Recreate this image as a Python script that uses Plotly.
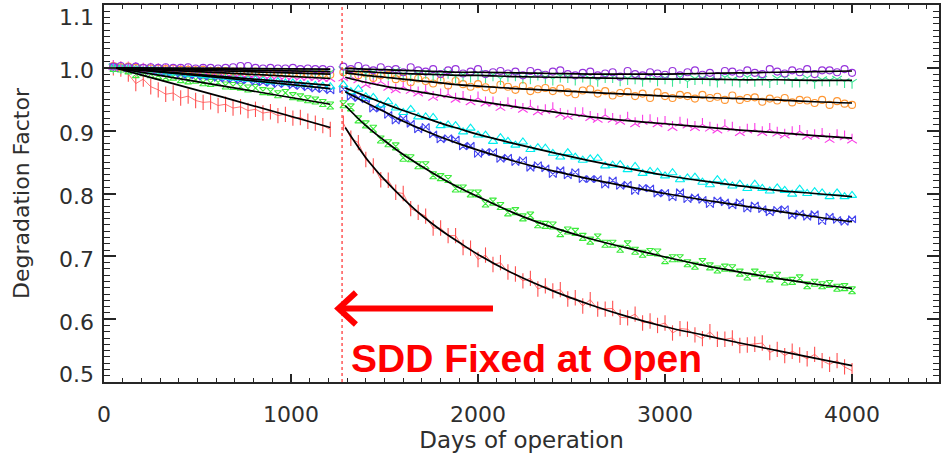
import plotly.graph_objects as go

# ---------------------------------------------------------------- data
# observation days, before and after the SDD was fixed at open
days_early = [50, 90, 130, 170, 210, 250, 290, 330, 370, 410, 450, 490, 530, 570, 610,
              650, 690, 730, 770, 810, 850, 890, 930, 970, 1010, 1050, 1090, 1130, 1170, 1210]
days_late = [1280, 1320, 1360, 1400, 1440, 1480, 1520, 1560, 1600, 1640, 1680, 1720, 1760,
             1800, 1840, 1880, 1920, 1960, 2000, 2040, 2080, 2120, 2160, 2200, 2240, 2280,
             2320, 2360, 2400, 2440, 2480, 2520, 2560, 2600, 2640, 2680, 2720, 2760, 2800,
             2840, 2880, 2920, 2960, 3000, 3040, 3080, 3120, 3160, 3200, 3240, 3280, 3320,
             3360, 3400, 3440, 3480, 3520, 3560, 3600, 3640, 3680, 3720, 3760, 3800, 3840,
             3880, 3920, 3960, 4000]

red_early = [1.000, 0.998, 0.990, 0.975, 0.982, 0.970, 0.965, 0.958, 0.960, 0.952,
             0.955, 0.948, 0.945, 0.946, 0.940, 0.942, 0.936, 0.938, 0.932, 0.934,
             0.928, 0.930, 0.924, 0.926, 0.920, 0.921, 0.915, 0.912, 0.908, 0.902]
green_early = [1.000, 0.999, 0.996, 0.990, 0.993, 0.990, 0.988, 0.985, 0.986, 0.982,
               0.980, 0.981, 0.977, 0.976, 0.977, 0.972, 0.971, 0.970, 0.967, 0.968,
               0.963, 0.962, 0.958, 0.960, 0.955, 0.953, 0.950, 0.948, 0.944, 0.940]
blue_early = [1.002, 1.000, 0.999, 0.997, 0.996, 0.995, 0.994, 0.992, 0.993, 0.990,
              0.989, 0.988, 0.986, 0.987, 0.984, 0.983, 0.982, 0.980, 0.981, 0.978,
              0.977, 0.976, 0.974, 0.975, 0.972, 0.971, 0.969, 0.967, 0.966, 0.964]
cyan_early = [1.001, 1.000, 0.999, 0.998, 0.996, 0.996, 0.995, 0.994, 0.992, 0.993,
              0.990, 0.990, 0.988, 0.987, 0.987, 0.985, 0.984, 0.983, 0.982, 0.981,
              0.980, 0.978, 0.978, 0.976, 0.976, 0.974, 0.973, 0.972, 0.971, 0.970]
magenta_early = [1.002, 1.000, 1.000, 0.999, 0.998, 0.998, 0.997, 0.996, 0.996, 0.995,
                 0.995, 0.993, 0.994, 0.992, 0.992, 0.991, 0.990, 0.990, 0.989, 0.989,
                 0.988, 0.987, 0.987, 0.986, 0.986, 0.985, 0.985, 0.984, 0.983, 0.983]
orange_early = [1.003, 1.001, 1.002, 1.000, 1.000, 0.999, 0.999, 0.998, 0.999, 0.997,
                0.997, 0.996, 0.997, 0.995, 0.995, 0.995, 0.994, 0.994, 0.993, 0.994,
                0.992, 0.992, 0.992, 0.991, 0.991, 0.991, 0.990, 0.990, 0.990, 0.989]
spring_early = [1.001, 1.000, 1.000, 1.000, 0.999, 0.999, 0.999, 0.998, 0.998, 0.998,
                0.997, 0.998, 0.997, 0.997, 0.996, 0.997, 0.996, 0.996, 0.995, 0.996,
                0.995, 0.995, 0.995, 0.994, 0.995, 0.994, 0.994, 0.994, 0.993, 0.993]
purple_early = [1.002, 1.003, 1.001, 1.002, 1.000, 1.001, 1.000, 1.001, 1.000, 1.000,
                1.001, 0.999, 1.000, 1.000, 0.999, 1.000, 1.001, 1.003, 1.003, 1.000,
                0.999, 1.000, 0.999, 0.999, 1.000, 0.998, 0.999, 0.998, 0.998, 0.997]

red_late = [0.912, 0.888, 0.881, 0.854, 0.844, 0.822, 0.821, 0.802, 0.800, 0.776,
            0.770, 0.764, 0.745, 0.745, 0.733, 0.733, 0.714, 0.713, 0.695, 0.702,
            0.687, 0.690, 0.675, 0.672, 0.661, 0.665, 0.648, 0.653, 0.645, 0.647,
            0.632, 0.634, 0.621, 0.631, 0.616, 0.616, 0.617, 0.603, 0.602, 0.608,
            0.594, 0.597, 0.590, 0.594, 0.578, 0.585, 0.584, 0.575, 0.569, 0.580,
            0.568, 0.568, 0.570, 0.558, 0.559, 0.560, 0.562, 0.547, 0.552, 0.542,
            0.549, 0.543, 0.537, 0.544, 0.534, 0.528, 0.534, 0.524, 0.518]
green_late = [0.942, 0.937, 0.918, 0.910, 0.903, 0.886, 0.880, 0.875, 0.857, 0.856,
              0.845, 0.845, 0.829, 0.826, 0.823, 0.808, 0.808, 0.800, 0.800, 0.784,
              0.787, 0.780, 0.770, 0.772, 0.762, 0.765, 0.751, 0.750, 0.749, 0.737,
              0.741, 0.739, 0.731, 0.725, 0.730, 0.720, 0.720, 0.712, 0.719, 0.709,
              0.704, 0.707, 0.706, 0.694, 0.697, 0.697, 0.689, 0.685, 0.691, 0.684,
              0.679, 0.682, 0.681, 0.674, 0.668, 0.674, 0.670, 0.665, 0.669, 0.660,
              0.661, 0.665, 0.654, 0.658, 0.654, 0.656, 0.650, 0.651, 0.646]
blue_late = [0.966, 0.954, 0.952, 0.950, 0.935, 0.936, 0.925, 0.916, 0.919, 0.911,
             0.902, 0.906, 0.894, 0.886, 0.888, 0.886, 0.875, 0.876, 0.863, 0.866,
             0.866, 0.855, 0.857, 0.850, 0.853, 0.841, 0.845, 0.840, 0.831, 0.837,
             0.829, 0.834, 0.823, 0.823, 0.823, 0.814, 0.821, 0.812, 0.814, 0.804,
             0.809, 0.808, 0.800, 0.801, 0.794, 0.802, 0.791, 0.794, 0.790, 0.783,
             0.789, 0.786, 0.781, 0.786, 0.776, 0.781, 0.775, 0.770, 0.774, 0.775,
             0.765, 0.768, 0.763, 0.767, 0.756, 0.763, 0.758, 0.755, 0.759]
cyan_late = [0.973, 0.962, 0.966, 0.954, 0.953, 0.941, 0.946, 0.936, 0.929, 0.934,
             0.922, 0.922, 0.921, 0.908, 0.909, 0.908, 0.898, 0.904, 0.893, 0.893,
             0.883, 0.889, 0.883, 0.877, 0.882, 0.870, 0.873, 0.872, 0.864, 0.858,
             0.865, 0.858, 0.853, 0.855, 0.856, 0.844, 0.845, 0.846, 0.838, 0.843,
             0.832, 0.835, 0.834, 0.828, 0.833, 0.822, 0.825, 0.826, 0.818, 0.814,
             0.822, 0.817, 0.812, 0.815, 0.808, 0.815, 0.808, 0.804, 0.809, 0.805,
             0.799, 0.807, 0.800, 0.803, 0.801, 0.795, 0.801, 0.795, 0.797]
magenta_late = [0.984, 0.986, 0.981, 0.973, 0.977, 0.978, 0.969, 0.965, 0.970, 0.964,
                0.960, 0.963, 0.953, 0.957, 0.958, 0.950, 0.953, 0.946, 0.952, 0.944,
                0.944, 0.937, 0.943, 0.940, 0.934, 0.939, 0.930, 0.932, 0.935, 0.926,
                0.923, 0.927, 0.927, 0.921, 0.918, 0.925, 0.918, 0.915, 0.920, 0.911,
                0.915, 0.916, 0.911, 0.913, 0.905, 0.912, 0.909, 0.905, 0.910, 0.904,
                0.901, 0.908, 0.904, 0.897, 0.901, 0.902, 0.897, 0.902, 0.896, 0.893,
                0.897, 0.899, 0.891, 0.892, 0.894, 0.886, 0.892, 0.890, 0.885]
orange_late = [0.993, 0.995, 0.988, 0.991, 0.984, 0.988, 0.989, 0.982, 0.984, 0.977,
               0.983, 0.979, 0.975, 0.980, 0.972, 0.979, 0.974, 0.970, 0.974, 0.969,
               0.965, 0.973, 0.970, 0.965, 0.971, 0.963, 0.966, 0.968, 0.963, 0.967,
               0.961, 0.958, 0.964, 0.966, 0.959, 0.963, 0.956, 0.960, 0.962, 0.955,
               0.959, 0.952, 0.961, 0.955, 0.952, 0.957, 0.955, 0.951, 0.957, 0.952,
               0.954, 0.949, 0.956, 0.949, 0.952, 0.953, 0.946, 0.951, 0.948, 0.952,
               0.945, 0.949, 0.948, 0.944, 0.949, 0.941, 0.947, 0.943, 0.941]
spring_late = [0.997, 0.994, 0.997, 0.991, 0.993, 0.995, 0.990, 0.996, 0.990, 0.988,
               0.991, 0.993, 0.988, 0.989, 0.993, 0.986, 0.989, 0.987, 0.991, 0.986,
               0.989, 0.983, 0.988, 0.989, 0.985, 0.984, 0.990, 0.985, 0.982, 0.987,
               0.986, 0.982, 0.987, 0.983, 0.980, 0.986, 0.986, 0.981, 0.983, 0.984,
               0.980, 0.987, 0.981, 0.984, 0.980, 0.985, 0.978, 0.983, 0.984, 0.981,
               0.979, 0.985, 0.981, 0.979, 0.985, 0.980, 0.982, 0.978, 0.983, 0.984,
               0.979, 0.979, 0.984, 0.977, 0.981, 0.980, 0.982, 0.978, 0.977]
purple_late = [1.002, 0.998, 1.003, 0.999, 0.996, 1.001, 0.997, 0.998, 0.993, 1.001,
               0.996, 0.994, 0.998, 0.990, 0.996, 0.998, 0.991, 0.994, 0.998, 0.990,
               0.993, 0.995, 0.991, 0.994, 0.988, 0.995, 0.992, 0.989, 0.994, 0.996,
               0.990, 0.988, 0.992, 0.994, 0.988, 0.991, 0.993, 0.986, 0.995, 0.990,
               0.988, 0.993, 0.991, 0.989, 0.995, 0.988, 0.993, 0.996, 0.989, 0.992,
               0.987, 0.995, 0.994, 0.991, 0.996, 0.992, 0.990, 0.998, 0.994, 0.991,
               0.996, 0.993, 0.998, 0.990, 0.996, 0.996, 0.993, 0.998, 0.992]

# fitted degradation trends
fit_days_early = [60, 640, 1210]
red_fit_early = [1.000, 0.953, 0.905]
green_fit_early = [1.000, 0.971, 0.942]
blue_fit_early = [1.000, 0.984, 0.967]
cyan_fit_early = [1.000, 0.986, 0.972]
magenta_fit_early = [1.000, 0.992, 0.983]
orange_fit_early = [1.000, 0.995, 0.990]
spring_fit_early = [1.000, 0.997, 0.994]
purple_fit_early = [1.000, 0.999, 0.998]

fit_days_late = [1290, 1400, 1500, 1600, 1700, 1800, 1900, 2000, 2200, 2400, 2600, 2800,
                 3000, 3200, 3400, 3600, 3800, 4000]
red_fit_late = [0.905, 0.857, 0.822, 0.792, 0.765, 0.742, 0.722, 0.703, 0.671, 0.645,
                0.623, 0.604, 0.588, 0.575, 0.562, 0.550, 0.538, 0.526]
green_fit_late = [0.940, 0.908, 0.884, 0.862, 0.843, 0.825, 0.809, 0.795, 0.768, 0.746,
                  0.728, 0.713, 0.699, 0.686, 0.675, 0.665, 0.656, 0.649]
blue_fit_late = [0.962, 0.945, 0.930, 0.915, 0.902, 0.890, 0.879, 0.869, 0.851, 0.836,
                 0.823, 0.811, 0.800, 0.790, 0.781, 0.772, 0.763, 0.755]
cyan_fit_late = [0.968, 0.955, 0.943, 0.932, 0.922, 0.912, 0.903, 0.894, 0.879, 0.865,
                 0.852, 0.840, 0.829, 0.820, 0.812, 0.805, 0.800, 0.795]
magenta_fit_late = [0.985, 0.977, 0.971, 0.966, 0.961, 0.956, 0.951, 0.947, 0.938, 0.930,
                    0.922, 0.916, 0.911, 0.906, 0.901, 0.897, 0.892, 0.888]
orange_fit_late = [0.992, 0.988, 0.985, 0.982, 0.979, 0.976, 0.973, 0.971, 0.967, 0.964,
                   0.961, 0.958, 0.955, 0.953, 0.951, 0.949, 0.946, 0.944]
spring_fit_late = [0.995, 0.994, 0.992, 0.991, 0.990, 0.989, 0.988, 0.988, 0.986, 0.985,
                   0.984, 0.983, 0.982, 0.982, 0.981, 0.981, 0.980, 0.980]
purple_fit_late = [0.999, 0.998, 0.997, 0.996, 0.995, 0.994, 0.993, 0.993, 0.992, 0.991,
                   0.990, 0.990, 0.990, 0.991, 0.992, 0.993, 0.994, 0.995]

y_tick_values = [0.5, 0.6, 0.7, 0.8, 0.9, 1.0, 1.1]
sdd_fixed_day = 1273

# ---------------------------------------------------------------- styling
AXIS = "#262626"
TEXT = "#2e2e2e"
FONT = "DejaVu Sans"

# (early values, late values, early fit, late fit, colour, marker symbol, size)
channels = [
    (red_early, red_late, red_fit_early, red_fit_late, "rgb(255,80,80)", "line-ns-open", 11),
    (green_early, green_late, green_fit_early, green_fit_late, "rgb(60,235,60)", "hourglass-open", 7),
    (blue_early, blue_late, blue_fit_early, blue_fit_late, "rgb(70,70,240)", "bowtie-open", 7),
    (cyan_early, cyan_late, cyan_fit_early, cyan_fit_late, "rgb(0,238,238)", "triangle-up-open", 8),
    (magenta_early, magenta_late, magenta_fit_early, magenta_fit_late, "rgb(250,60,230)", "y-up-open", 8),
    (orange_early, orange_late, orange_fit_early, orange_fit_late, "rgb(255,150,50)", "circle-open", 7),
    (spring_early, spring_late, spring_fit_early, spring_fit_late, "rgb(60,230,150)", "y-down-open", 8),
    (purple_early, purple_late, purple_fit_early, purple_fit_late, "rgb(150,50,220)", "circle-open", 7),
]

fig = go.Figure()

for early, late, _, _, colour, symbol, size in channels:
    for xs, ys in ((days_early, early), (days_late, late)):
        fig.add_trace(go.Scatter(
            x=xs, y=ys,
            mode="lines+markers" if symbol == "line-ns-open" else "markers",
            line=dict(color=colour, width=0.8),
            marker=dict(symbol=symbol, size=size, color=colour,
                        line=dict(color=colour, width=1.1)),
            hoverinfo="skip", showlegend=False))

for _, _, fit_e, fit_l, *_ in channels:
    for xs, ys in ((fit_days_early, fit_e), (fit_days_late, fit_l)):
        fig.add_trace(go.Scatter(
            x=xs, y=ys, mode="lines", line=dict(color="black", width=1.7, shape="spline"),
            hoverinfo="skip", showlegend=False))

# dotted marker of the day the SDD was fixed
fig.add_shape(type="line", xref="x", yref="paper", x0=sdd_fixed_day, x1=sdd_fixed_day,
              y0=0, y1=1, line=dict(color="red", width=1, dash="dot"))

# red arrow pointing back at the dotted line
arrow_y = 0.617
fig.add_shape(type="path", xref="x", yref="y",
              path=f"M 2080,{arrow_y} L 1262,{arrow_y}",
              line=dict(color="red", width=6))
fig.add_shape(type="path", xref="x", yref="y",
              path=f"M 1347,{arrow_y + 0.0255} L 1254,{arrow_y} L 1347,{arrow_y - 0.0255}",
              line=dict(color="red", width=6))

fig.add_annotation(x=1310, y=0.538, xref="x", yref="y", xanchor="left", yanchor="middle",
                   text="<b>SDD Fixed at Open</b>", showarrow=False,
                   font=dict(family="Liberation Sans", size=39, color="red"))

# y tick labels; the end labels sit inside the frame
for v in y_tick_values:
    shift = -3
    if v == y_tick_values[-1]:
        shift = -12
    elif v == y_tick_values[0]:
        shift = 8
    fig.add_annotation(x=0, y=v, xref="paper", yref="y", xanchor="right", yanchor="middle",
                       xshift=-8, yshift=shift, text=f"{v:.1f}", showarrow=False,
                       font=dict(family=FONT, size=22, color=TEXT))

fig.update_layout(
    width=941, height=460,
    margin=dict(l=104, r=2, t=5, b=78),
    paper_bgcolor="white", plot_bgcolor="white",
    showlegend=False,
)
fig.update_xaxes(
    range=[0, 4465], dtick=1000, tick0=0,
    showline=True, linecolor=AXIS, linewidth=2, mirror="allticks",
    ticks="inside", ticklen=8, tickwidth=1.5, tickcolor=AXIS,
    minor=dict(dtick=100, ticks="inside", ticklen=4, tickwidth=1.2, tickcolor=AXIS, showgrid=False),
    showgrid=False, zeroline=False,
    tickfont=dict(family=FONT, size=22, color=TEXT), ticklabelstandoff=12,
    title=dict(text="Days of operation", font=dict(family=FONT, size=23, color=TEXT), standoff=5),
    automargin=False,
)
fig.update_yaxes(
    range=[0.5, 1.1], dtick=0.1, tick0=0.5,
    showline=True, linecolor=AXIS, linewidth=2, mirror="allticks",
    ticks="inside", ticklen=12, tickwidth=1.5, tickcolor=AXIS,
    minor=dict(dtick=0.01, ticks="inside", ticklen=6, tickwidth=1.2, tickcolor=AXIS, showgrid=False),
    showgrid=False, zeroline=False, showticklabels=False,
    title=dict(text="Degradation Factor", font=dict(family=FONT, size=22, color=TEXT), standoff=66),
    automargin=False,
)

fig.write_html("out.html")
